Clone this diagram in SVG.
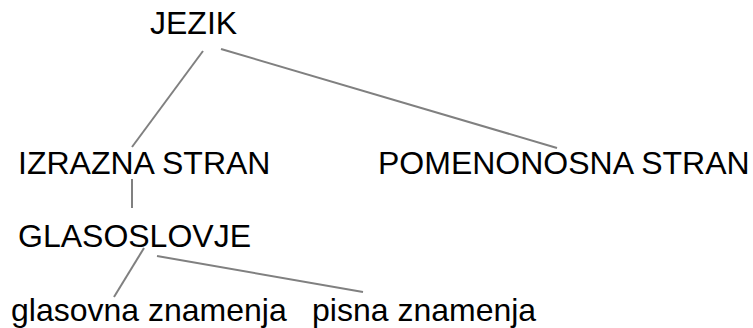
<svg xmlns="http://www.w3.org/2000/svg" width="753" height="328" viewBox="0 0 753 328">
<style>
text{font-family:"Liberation Sans",Arial,sans-serif;font-size:32px;fill:#000}
.c line{stroke:#808080;stroke-width:2}
</style>
<rect width="753" height="328" fill="#fff"/>
<g class="c" id="connectors">
<line x1="203" y1="51" x2="132" y2="147"/>
<line x1="221" y1="49" x2="557" y2="148"/>
<line x1="132" y1="179" x2="132" y2="208"/>
<line x1="144" y1="248" x2="114" y2="297"/>
<line x1="157" y1="256" x2="363" y2="292"/>
</g>
<g id="n-jezik"><text x="150" y="34">JEZIK</text></g>
<g id="n-izrazna"><text x="18" y="174">IZRAZNA STRAN</text></g>
<g id="n-pomenonosna"><text x="378" y="174">POMENONOSNA STRAN</text></g>
<g id="n-glasoslovje"><text x="18" y="247">GLASOSLOVJE</text></g>
<g id="n-glasovna"><text x="11" y="321">glasovna znamenja</text></g>
<g id="n-pisna"><text x="312" y="321">pisna znamenja</text></g>
</svg>
